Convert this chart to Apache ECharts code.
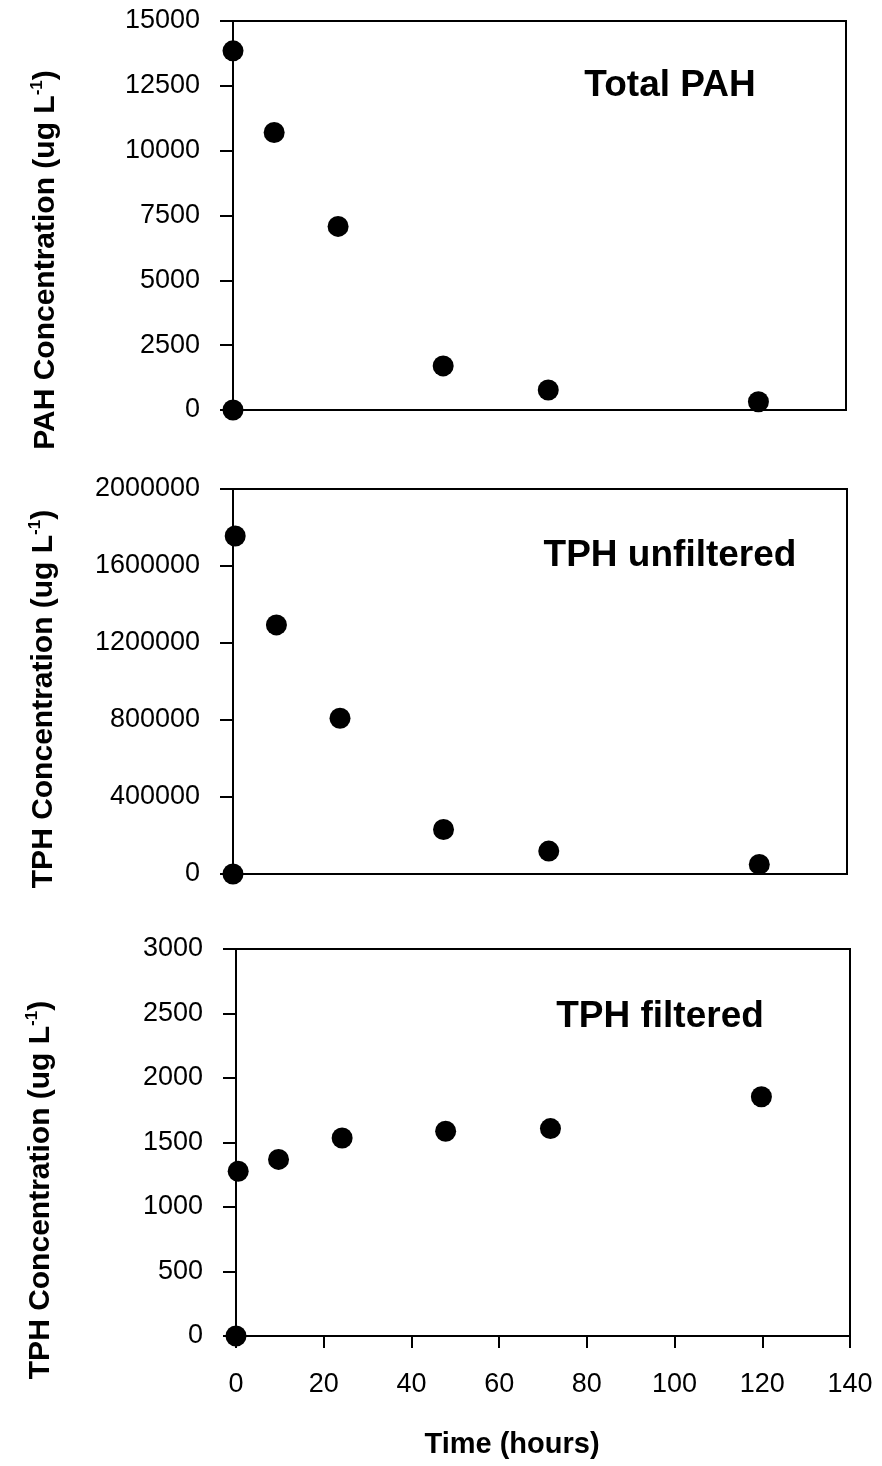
<!DOCTYPE html>
<html>
<head>
<meta charset="utf-8">
<script src="https://cdn.jsdelivr.net/npm/echarts@6/dist/echarts.min.js"></script>
<style>
html,body{margin:0;padding:0;background:#fff;}
#chart{width:882px;height:1466px;}
</style>
</head>
<body>
<div id="chart"></div>
<script>
// ---- data ----
var panelLabels = ['Total PAH', 'TPH unfiltered', 'TPH filtered'];
var yTitles = ['PAH Concentration', 'TPH Concentration', 'TPH Concentration'];
var xTitle = 'Time (hours)';

var hoursPAH = [0, 0, 9.4, 24, 48, 72, 120];
var concPAH = [0, 13850, 10700, 7080, 1700, 770, 320];

var hoursTPHu = [0, 0.5, 9.9, 24.4, 48, 72, 120];
var concTPHu = [0, 1756000, 1294000, 809000, 231000, 119000, 50000];

var hoursTPHf = [0, 0.5, 9.7, 24.2, 47.8, 71.7, 119.8];
var concTPHf = [0, 1277, 1369, 1535, 1587, 1608, 1855];

var yMax = [15000, 2000000, 3000];
var yStep = [2500, 400000, 500];
var xMax = 140, xStep = 20;

function pairs(xs, ys) { return xs.map(function (x, i) { return [x, ys[i]]; }); }

var FONT = '"Liberation Sans", Arial, sans-serif';
var grids = [
  {left: 233, top: 21, width: 613, height: 389},
  {left: 233, top: 489, width: 614, height: 385},
  {left: 236, top: 949, width: 614, height: 387}
];
var titleCenters = [[46, 260], [44, 699], [41, 1190]];
var labelPos = [[670, 86], [670, 556], [660, 1017]];

var chart = echarts.init(document.getElementById('chart'), null, {renderer: 'canvas'});

var option = {
  backgroundColor: '#ffffff',
  animation: false,
  grid: grids.map(function (g) {
    return Object.assign({show: true, borderColor: '#000', borderWidth: 2, backgroundColor: 'transparent'}, g);
  }),
  xAxis: [0, 1, 2].map(function (i) {
    var bottom = i === 2;
    return {
      type: 'value', gridIndex: i, min: 0, max: xMax, interval: xStep,
      axisLine: {show: true, onZero: false, lineStyle: {color: '#000', width: 2}},
      axisTick: {show: bottom, inside: false, length: 12, lineStyle: {color: '#000', width: 2}},
      axisLabel: {show: bottom, color: '#000', fontFamily: FONT, fontSize: 27, margin: 35},
      splitLine: {show: false}
    };
  }),
  yAxis: [0, 1, 2].map(function (i) {
    return {
      type: 'value', gridIndex: i, min: 0, max: yMax[i], interval: yStep[i],
      axisLine: {show: true, onZero: false, lineStyle: {color: '#000', width: 2}},
      axisTick: {show: true, inside: false, length: 13, lineStyle: {color: '#000', width: 2}},
      axisLabel: {color: '#000', fontFamily: FONT, fontSize: 27, margin: 33,
        formatter: function (v) { return String(v); }},
      splitLine: {show: false}
    };
  }),
  series: [
    {data: pairs(hoursPAH, concPAH)},
    {data: pairs(hoursTPHu, concTPHu)},
    {data: pairs(hoursTPHf, concTPHf)}
  ].map(function (s, i) {
    return {
      type: 'scatter', xAxisIndex: i, yAxisIndex: i, data: s.data,
      symbol: 'circle', symbolSize: 21, clip: false,
      itemStyle: {color: '#000', opacity: 1}
    };
  }),
  graphic: []
};

// y-axis titles and panel labels
for (var i = 0; i < 3; i++) {
  option.graphic.push({
    type: 'text', x: titleCenters[i][0], y: titleCenters[i][1], rotation: Math.PI / 2,
    style: {
      text: '{m|' + yTitles[i] + ' (ug L}{s|-1}{m|)}',
      align: 'center', verticalAlign: 'middle', fill: '#000',
      rich: {
        m: {fontFamily: FONT, fontWeight: 'bold', fontSize: 30, fill: '#000', lineHeight: 34},
        s: {fontFamily: FONT, fontWeight: 'bold', fontSize: 17, fill: '#000', verticalAlign: 'top', lineHeight: 34, padding: [0, 0, 16, 0]}
      }
    }
  });
  option.graphic.push({
    type: 'text', x: labelPos[i][0], y: labelPos[i][1],
    style: {
      text: panelLabels[i], align: 'center', verticalAlign: 'middle', fill: '#000',
      font: 'bold 37px ' + FONT
    }
  });
}
option.graphic.push({
  type: 'text', x: 512, y: 1445,
  style: {text: xTitle, align: 'center', verticalAlign: 'middle', fill: '#000', font: 'bold 29px ' + FONT}
});

chart.setOption(option);
</script>
</body>
</html>
